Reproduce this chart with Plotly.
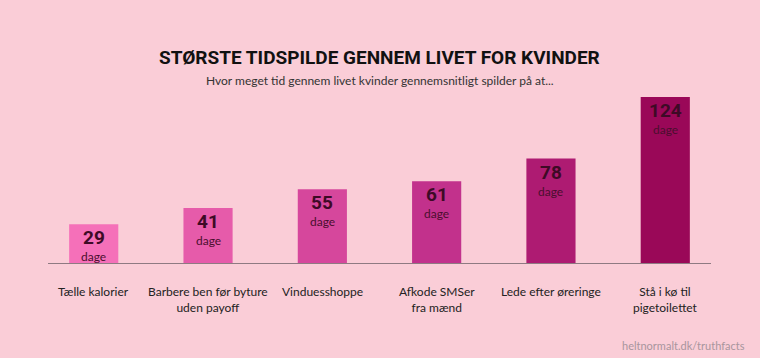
import plotly.graph_objects as go

categories = ["Tælle kalorier", "Barbere ben før byture<br>uden payoff", "Vinduesshoppe",
              "Afkode SMSer<br>fra mænd", "Lede efter øreringe", "Stå i kø til<br>pigetoilettet"]
days = [29, 41, 55, 61, 78, 124]
unit = "dage"
bar_colors = ["#F570B9", "#E65BAA", "#D6479C", "#C2318C", "#AE1B72", "#9A0858"]

title = "STØRSTE TIDSPILDE GENNEM LIVET FOR KVINDER"
subtitle = "Hvor meget tid gennem livet kvinder gennemsnitligt spilder på at..."
source = "heltnormalt.dk/truthfacts"

bg = "#FACDD7"
cond = "Roboto, sans-serif"
x = list(range(len(categories)))

fig = go.Figure(go.Bar(x=x, y=days, marker=dict(color=bar_colors, line=dict(width=0)),
                       width=0.43, hoverinfo="skip"))

annotations = []
for i, v in enumerate(days):
    annotations.append(dict(x=i, y=v, xref="x", yref="y", text="<b>" + str(v) + "</b>", showarrow=False,
                            yanchor="top", yshift=-1, borderpad=0,
                            font=dict(family=cond, size=19, color="#3E0A26")))
    annotations.append(dict(x=i, y=v, xref="x", yref="y", text=unit, showarrow=False,
                            yanchor="top", yshift=-24, borderpad=0,
                            font=dict(family="Lato", size=12, color="#4A0F2E")))
    annotations.append(dict(x=i, y=0, xref="x", yref="y", text=categories[i], showarrow=False,
                            yanchor="top", yshift=-19,
                            font=dict(family="Lato", size=12, color="#222222")))

annotations.append(dict(x=0.5, y=1, xref="paper", yref="paper", yshift=40, text="<b>" + title + "</b>",
                        showarrow=False, xanchor="center", yanchor="middle",
                        font=dict(family=cond, size=19, color="#111111")))
annotations.append(dict(x=0.5, y=1, xref="paper", yref="paper", yshift=17, text=subtitle,
                        showarrow=False, xanchor="center", yanchor="middle",
                        font=dict(family="Lato", size=12, color="#333333")))
annotations.append(dict(x=1, y=0, xref="paper", yref="paper", yshift=-82, xshift=36, text=source,
                        showarrow=False, xanchor="right", yanchor="middle",
                        font=dict(family="Lato", size=11, color="#A8959D")))

fig.update_layout(
    width=760, height=358,
    margin=dict(l=48, r=49, t=97, b=95),
    paper_bgcolor=bg, plot_bgcolor=bg,
    showlegend=False,
    xaxis=dict(range=[-0.4, 5.4], showticklabels=False, showgrid=False, zeroline=False,
               showline=True, linecolor="#8E7A82", linewidth=1, ticks="", fixedrange=True),
    yaxis=dict(range=[0, 124], visible=False, showgrid=False, zeroline=False, fixedrange=True),
    annotations=annotations,
)

fig.write_html("out.html")
